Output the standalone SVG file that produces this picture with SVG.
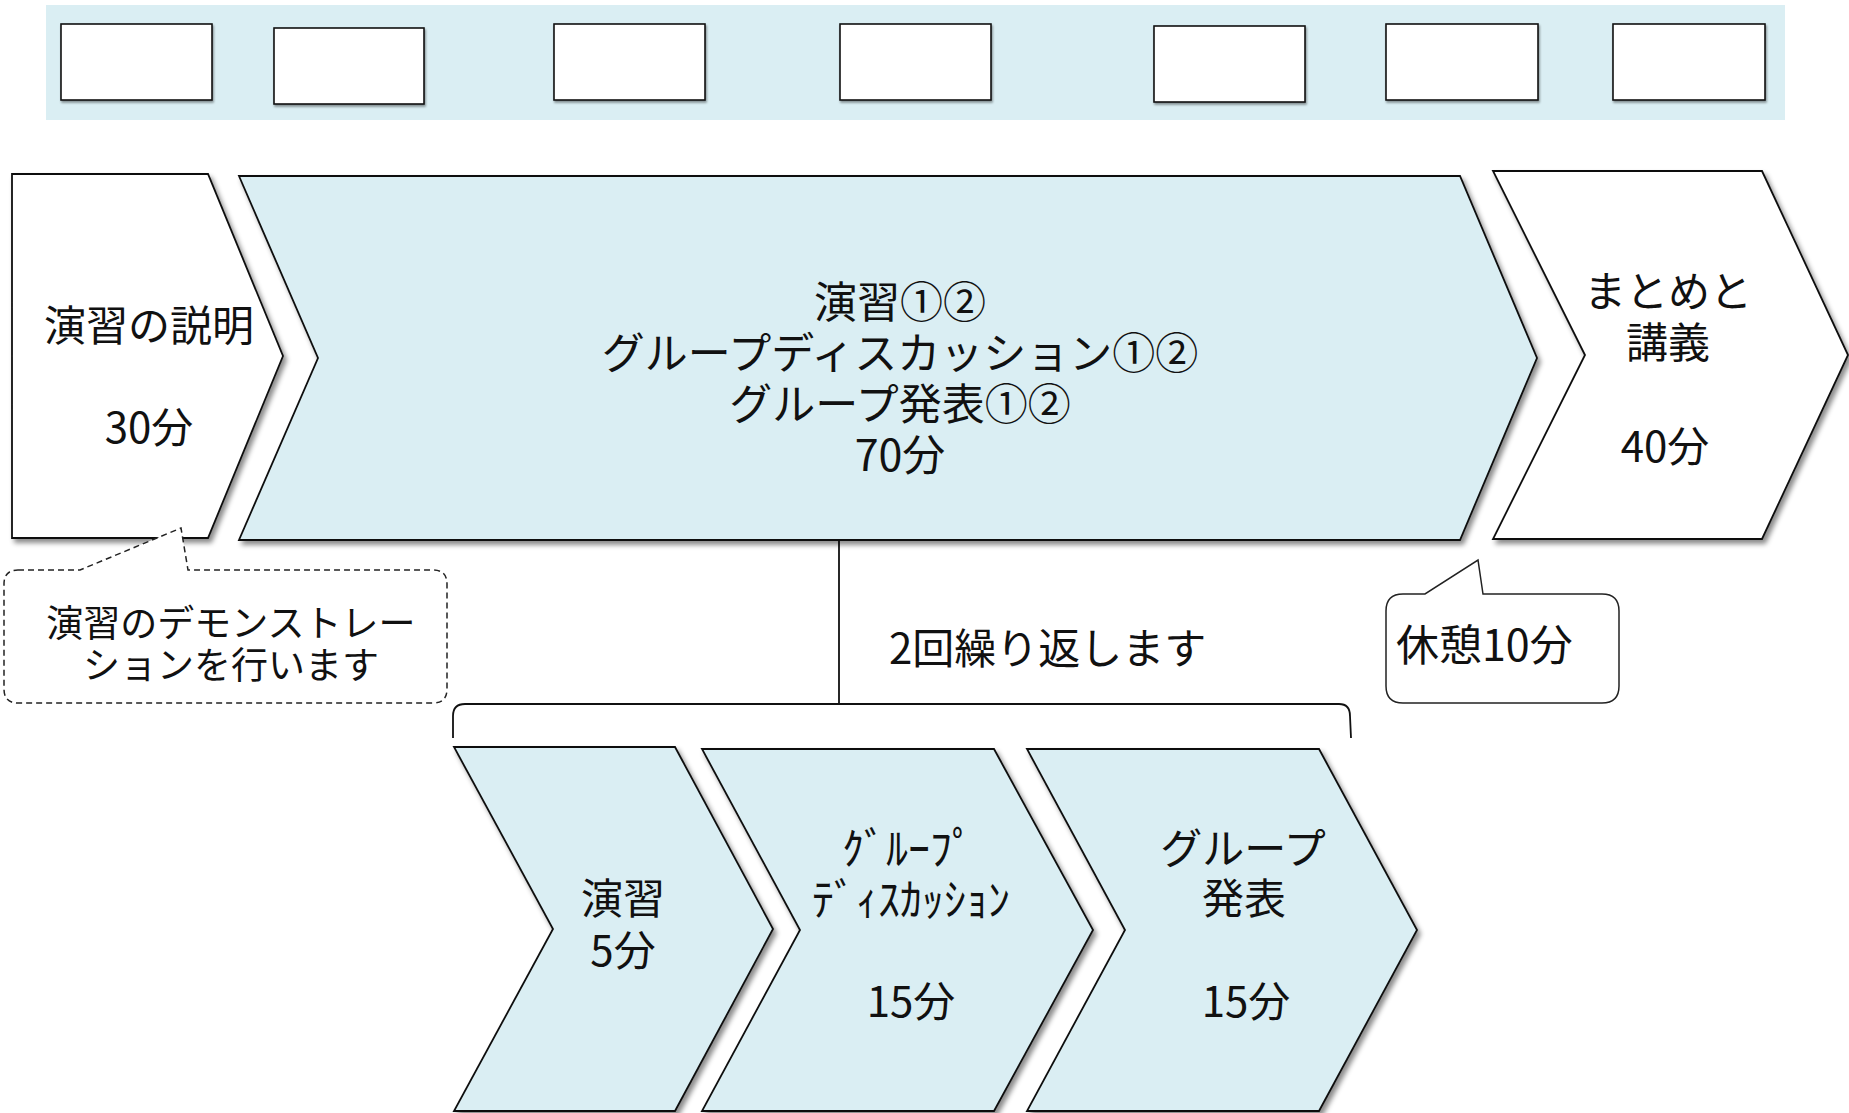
<svg xmlns="http://www.w3.org/2000/svg" width="1849" height="1113" viewBox="0 0 1849 1113">
<defs>
<filter id="sh" x="-5%" y="-5%" width="115%" height="115%">
<feDropShadow dx="3" dy="4" stdDeviation="2.5" flood-color="#000" flood-opacity="0.45"/>
</filter>
<filter id="sh2" x="-5%" y="-5%" width="115%" height="115%">
<feDropShadow dx="1" dy="2" stdDeviation="1" flood-color="#000" flood-opacity="0.4"/>
</filter>
</defs>
<style>
.band{fill:#DAEEF3;}
.box{fill:#fff;stroke:#111;stroke-width:1.6;filter:url(#sh2);}
.chw{fill:#fff;stroke:#111;stroke-width:1.8;stroke-linejoin:miter;filter:url(#sh);}
.chb{fill:#DAEEF3;stroke:#111;stroke-width:1.8;stroke-linejoin:miter;filter:url(#sh);}
.t{font-family:"Noto Sans CJK JP","Noto Sans",sans-serif;fill:#111;text-anchor:middle;dominant-baseline:central;}
.ts{font-family:"Noto Sans CJK JP","Noto Sans",sans-serif;fill:#111;text-anchor:start;dominant-baseline:central;}
.con{fill:none;stroke:#111;stroke-width:1.8;}
.callout-d{fill:#fff;stroke:#222;stroke-width:1.5;stroke-dasharray:6 4;}
.callout-s{fill:#fff;stroke:#222;stroke-width:1.5;}
</style>
<rect width="1849" height="1113" fill="#fff"/>

<g id="top-band">
<rect class="band" x="46" y="5" width="1739" height="115"/>
<rect class="box" x="61" y="24" width="151" height="76"/>
<rect class="box" x="274" y="28" width="150" height="76"/>
<rect class="box" x="554" y="24" width="151" height="76"/>
<rect class="box" x="840" y="24" width="151" height="76"/>
<rect class="box" x="1154" y="26" width="151" height="76"/>
<rect class="box" x="1386" y="24" width="152" height="76"/>
<rect class="box" x="1613" y="24" width="152" height="76"/>
</g>

<g id="connectors">
<line class="con" x1="839" y1="540" x2="839" y2="704"/>
<path class="con" d="M453,738 L453,716 Q453,704 465,704 L1339,704 Q1350,704 1350,716 L1351,738"/>
</g>

<g id="step-explain">
<polygon class="chw" points="12,174 208,174 283,356 208,538 12,538"/>
<text class="t" x="149" y="322" font-size="42">演習の説明</text>
<text class="t" x="149" y="424" font-size="42">30分</text>
</g>

<g id="step-exercise">
<polygon class="chb" points="239,176 1460,176 1537,358 1460,540 239,540 318,358"/>
<text class="t" x="900" y="299" font-size="43">演習①②</text>
<text class="t" x="900" y="350" font-size="43">グループディスカッション①②</text>
<text class="t" x="900" y="401" font-size="43">グループ発表①②</text>
<text class="t" x="900" y="452" font-size="43">70分</text>
</g>

<g id="step-summary">
<polygon class="chw" points="1493,171 1762,171 1848,355 1762,539 1493,539 1585,355"/>
<text class="t" x="1668" y="288" font-size="42">まとめと</text>
<text class="t" x="1668" y="339" font-size="42">講義</text>
<text class="t" x="1665" y="443" font-size="42">40分</text>
</g>

<g id="callout-demo">
<path class="callout-d" d="M18,570 L80,570 L181,528 L188,570 L433,570 Q447,570 447,584 L447,689 Q447,703 433,703 L18,703 Q4,703 4,689 L4,584 Q4,570 18,570 Z"/>
<text class="t" x="231" y="621" font-size="37">演習のデモンストレー</text>
<text class="t" x="231" y="663" font-size="37">ションを行います</text>
</g>

<g id="callout-break">
<path class="callout-s" d="M1403,594 L1425,594 L1478,560 L1483,594 L1602,594 Q1619,594 1619,611 L1619,686 Q1619,703 1602,703 L1403,703 Q1386,703 1386,686 L1386,611 Q1386,594 1403,594 Z"/>
<text class="ts" x="1396" y="642" font-size="43">休憩10分</text>
</g>

<g id="label-repeat">
<text class="ts" x="889" y="645" font-size="42">2回繰り返します</text>
</g>

<g id="sub-exercise">
<polygon class="chb" points="454,747 675,747 773,929 675,1111 454,1111 553,929"/>
<text class="t" x="623" y="895" font-size="42">演習</text>
<text class="t" x="623" y="947" font-size="42">5分</text>
</g>

<g id="sub-discussion">
<polygon class="chb" points="702,749 994,749 1093,930 994,1111 702,1111 800,930"/>
<text class="t" x="908" y="846" font-size="44">ｸﾞﾙｰﾌﾟ</text>
<text class="t" x="911" y="897" font-size="44">ﾃﾞｨｽｶｯｼｮﾝ</text>
<text class="t" x="911" y="998" font-size="42">15分</text>
</g>

<g id="sub-presentation">
<polygon class="chb" points="1027,749 1319,749 1417,930 1319,1111 1027,1111 1125,930"/>
<text class="t" x="1243" y="845" font-size="42">グループ</text>
<text class="t" x="1244" y="895" font-size="42">発表</text>
<text class="t" x="1246" y="998" font-size="42">15分</text>
</g>
</svg>
